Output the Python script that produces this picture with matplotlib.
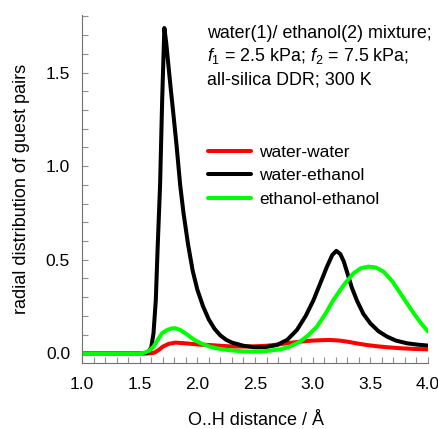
import matplotlib
matplotlib.use("Agg")
import matplotlib.pyplot as plt
from matplotlib.ticker import MultipleLocator

plt.rcParams['font.family'] = ['Liberation Sans', 'DejaVu Sans']
plt.rcParams['mathtext.fontset'] = 'custom'
plt.rcParams['mathtext.rm'] = 'Liberation Sans'
plt.rcParams['mathtext.it'] = 'Liberation Sans:italic'

# water-water (red)
ww_x = [1.0, 1.5, 1.6, 1.63, 1.666, 1.70, 1.75, 1.81, 1.9, 2.02, 2.11, 2.2, 2.31, 2.4, 2.49, 2.6, 2.7, 2.8, 2.89, 3.0, 3.08, 3.15, 3.23, 3.3, 3.38, 3.47, 3.55, 3.65, 3.76, 3.88, 4.0]
ww_y = [0.0, 0.0, 0.0, 0.004, 0.018, 0.035, 0.050, 0.057, 0.053, 0.046, 0.044, 0.040, 0.036, 0.036, 0.037, 0.040, 0.047, 0.055, 0.062, 0.068, 0.070, 0.071, 0.068, 0.062, 0.053, 0.044, 0.038, 0.032, 0.027, 0.023, 0.021]

# water-ethanol (black)
we_x = [1.0, 1.5, 1.565, 1.60, 1.62, 1.64, 1.655, 1.677, 1.695, 1.714, 1.73, 1.749, 1.77, 1.793, 1.82, 1.851, 1.88, 1.92, 1.96, 2.0, 2.05, 2.1, 2.15, 2.2, 2.25, 2.3, 2.4, 2.5, 2.6, 2.69, 2.78, 2.864, 2.94, 3.008, 3.07, 3.124, 3.17, 3.205, 3.24, 3.27, 3.30, 3.34, 3.385, 3.44, 3.50, 3.57, 3.645, 3.72, 3.82, 3.91, 4.0]
we_y = [0.0, 0.0, 0.0, 0.03, 0.107, 0.285, 0.55, 0.90, 1.35, 1.738, 1.66, 1.54, 1.41, 1.274, 1.11, 0.90, 0.75, 0.58, 0.44, 0.34, 0.25, 0.18, 0.13, 0.095, 0.072, 0.057, 0.040, 0.032, 0.034, 0.044, 0.072, 0.125, 0.20, 0.285, 0.38, 0.463, 0.525, 0.547, 0.53, 0.49, 0.43, 0.35, 0.28, 0.21, 0.16, 0.118, 0.089, 0.068, 0.053, 0.046, 0.041]

# ethanol-ethanol (green)
ee_x = [1.0, 1.5, 1.535, 1.58, 1.62, 1.66, 1.694, 1.74, 1.78, 1.807, 1.85, 1.90, 1.966, 2.024, 2.11, 2.18, 2.256, 2.40, 2.487, 2.60, 2.72, 2.80, 2.89, 2.96, 3.037, 3.11, 3.18, 3.27, 3.355, 3.42, 3.485, 3.55, 3.615, 3.69, 3.76, 3.82, 3.876, 3.94, 4.0]
ee_y = [0.0, 0.0, 0.002, 0.012, 0.035, 0.075, 0.107, 0.125, 0.133, 0.134, 0.125, 0.105, 0.075, 0.055, 0.035, 0.025, 0.018, 0.010, 0.009, 0.012, 0.021, 0.035, 0.062, 0.095, 0.142, 0.21, 0.285, 0.365, 0.428, 0.455, 0.463, 0.458, 0.436, 0.385, 0.321, 0.265, 0.214, 0.16, 0.116]

labels = ['water-water', 'water-ethanol', 'ethanol-ethanol']
colors = ['#ff0000', '#000000', '#00ff00']

FS = 12.5
W, H = 438, 429
AX_L, AX_R, AX_T, AX_B = 82, 428, 15.3, 363
fig = plt.figure(figsize=(W / 100, H / 100), dpi=100)
ax = fig.add_axes([AX_L / W, 1 - AX_B / H, (AX_R - AX_L) / W, (AX_B - AX_T) / H])

for xs, ys, lab, c in zip([ww_x, we_x, ee_x], [ww_y, we_y, ee_y], labels, colors):
    ax.plot(xs, ys, color=c, lw=2.9, label=lab, solid_capstyle='round', solid_joinstyle='round')

ax.set_xlim(1.0, 4.0)
ax.set_ylim(-0.052, 1.806)
for s in ['top', 'right']:
    ax.spines[s].set_visible(False)
for s in ['left', 'bottom']:
    ax.spines[s].set_color('#707070')
    ax.spines[s].set_linewidth(0.8)

ax.xaxis.set_major_locator(MultipleLocator(0.5))
ax.xaxis.set_minor_locator(MultipleLocator(0.1))
ax.yaxis.set_major_locator(MultipleLocator(0.5))
ax.yaxis.set_minor_locator(MultipleLocator(0.1))
ax.tick_params(which='both', direction='in', color='#909090', width=0.8, length=4.3, labelsize=FS)
ax.tick_params(axis='y', which='both', pad=8.6)
ax.tick_params(axis='x', which='both', pad=10.0)

axw, axh = AX_R - AX_L, AX_B - AX_T
ax.set_xlabel('O..H distance / Å', fontsize=13, va='baseline', ha='center')
ax.xaxis.set_label_coords((256 - AX_L) / axw, (AX_B - 425) / axh)
ax.set_ylabel('radial distribution of guest pairs', fontsize=13, va='center', ha='center')
ax.yaxis.set_label_coords((22 - AX_L) / axw, 0.5)

FA = 12.9
fig.text(207 / W, 1 - 33 / H, 'water(1)/ ethanol(2) mixture;', fontsize=FA, va='center', ha='left')
fig.text(207 / W, 1 - 56.5 / H, r'$f_1$ = 2.5 kPa; $f_2$ = 7.5 kPa;', fontsize=FA, va='center', ha='left')
fig.text(207 / W, 1 - 80 / H, 'all-silica DDR; 300 K', fontsize=FA, va='center', ha='left')

leg = ax.legend(loc='upper left', bbox_to_anchor=(208 / W, 1 - 145 / H), bbox_transform=fig.transFigure,
                frameon=False, fontsize=FS, handlelength=2.45, handletextpad=0.5,
                borderpad=0, borderaxespad=0, labelspacing=0.47)

fig.savefig('out.png', dpi=100)
